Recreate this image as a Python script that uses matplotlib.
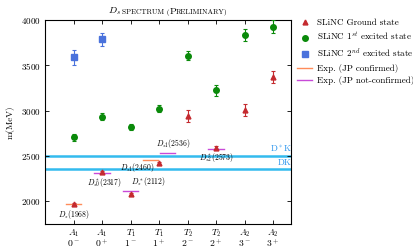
import numpy as np
import matplotlib
matplotlib.use("Agg")
import matplotlib.pyplot as plt
from matplotlib.lines import Line2D
from matplotlib.transforms import offset_copy, blended_transform_factory

plt.rcParams['font.family'] = 'serif'
plt.rcParams['font.serif'] = ['cmr10', 'DejaVu Serif']
plt.rcParams['mathtext.fontset'] = 'cm'
plt.rcParams['axes.unicode_minus'] = False
plt.rcParams['axes.formatter.use_mathtext'] = True

# irreps / J^P channels
irreps = [r"$A_1$", r"$A_1$", r"$T_1$", r"$T_1$", r"$T_2$", r"$T_2$", r"$A_2$", r"$A_2$"]
jp = [r"$0^-$", r"$0^+$", r"$1^-$", r"$1^+$", r"$2^-$", r"$2^+$", r"$3^-$", r"$3^+$"]

# lattice results (MeV)
ground = [1975, 2325, 2085, 2420, 2945, 2592, 3008, 3371]
ground_err = [10, 12, 12, 15, 65, 15, 70, 70]
exc1 = [2705, 2935, 2823, 3023, 3604, 3223, 3834, 3926]
exc1_err = [35, 37, 32, 40, 50, 60, 70, 75]
exc2_x = [1, 2]
exc2 = [3586, 3785]
exc2_err = [80, 70]

# experiment: (channel position, mass, label, confirmed)
exp_x = [1.0, 2.0, 3.0, 3.7, 4.3, 6.0]
exp_m = [1968, 2317, 2112, 2460, 2536, 2573]
exp_lab = [r"$D_s(1968)$", r"$D^*_{s0}(2317)$", r"$D^*_s(2112)$",
           r"$D_{s1}(2460)$", r"$D_{s1}(2536)$", r"$D^*_{s2}(2573)$"]
exp_conf = [True, False, False, True, False, False]

# thresholds
thr_m = [2501, 2359]
thr_lab = [r"D$^*$K", "DK"]

c_red = '#c42a2f'
c_green = '#0a8a0a'
c_blue = '#4a72dc'
c_orange = '#ff8c5a'
c_mag = '#c84ad8'
c_thr = '#33bbee'

fig = plt.figure(figsize=(4.14, 2.52), dpi=100)
ax = fig.add_axes([0.109, 0.111, 0.594, 0.810])

x = np.arange(1, len(irreps) + 1)

for t, m in zip(thr_m, thr_lab):
    ax.axhline(t, color=c_thr, lw=1.8, zorder=1)
    ax.text(8.66, t + 25, m, color='#3399ee', fontsize=6.5, ha='right', va='bottom')

for xx, mm, lab, conf in zip(exp_x, exp_m, exp_lab, exp_conf):
    ax.plot([xx - 0.27, xx + 0.27], [mm, mm], color=c_orange if conf else c_mag, lw=1.0, zorder=2)

lab_off = {  # text placement around each line
    0: (1.0, -45, 'center', 'top'),
    1: (2.07, -35, 'center', 'top'),
    2: (3.0, 30, 'left', 'bottom'),
    3: (3.85, -15, 'right', 'top'),
    4: (4.5, 25, 'center', 'bottom'),
    5: (6.0, -20, 'center', 'top'),
}
for i, lab in enumerate(exp_lab):
    px, dy, ha, va = lab_off[i]
    ax.text(px, exp_m[i] + dy, lab, fontsize=5.5, ha=ha, va=va, zorder=3)

ax.errorbar(x, ground, yerr=ground_err, fmt='^', color=c_red, ms=3.5,
            capsize=1.5, elinewidth=0.8, capthick=0.8, zorder=4)
ax.errorbar(x, exc1, yerr=exc1_err, fmt='o', color=c_green, ms=4,
            capsize=1.5, elinewidth=0.8, capthick=0.8, zorder=4)
ax.errorbar(exc2_x, exc2, yerr=exc2_err, fmt='s', color=c_blue, ms=4,
            capsize=1.5, elinewidth=0.8, capthick=0.8, zorder=4)

ax.set_xlim(0, 8.63)
ax.set_ylim(1750, 4000)
ax.set_xticks(x)
ax.set_xticklabels(irreps, fontsize=7)
ax.set_yticks([2000, 2500, 3000, 3500, 4000])
ax.tick_params(direction='in', top=True, right=True, labelsize=6.5, length=3, width=0.6)
ax.tick_params(axis='x', pad=2.5)
btr = blended_transform_factory(ax.transData, ax.transAxes)
for xi, s in zip(x, jp):
    ax.text(xi, -0.095, s, transform=btr, fontsize=7, ha='center', va='center')
ax.set_ylabel("m(MeV)", fontsize=6.5)
for s in ax.spines.values():
    s.set_linewidth(0.8)

handles = [
    Line2D([], [], ls='none', marker='^', color=c_red, ms=3.5),
    Line2D([], [], ls='none', marker='o', color=c_green, ms=4),
    Line2D([], [], ls='none', marker='s', color=c_blue, ms=4),
    Line2D([], [], color=c_orange, lw=1.0),
    Line2D([], [], color=c_mag, lw=1.0),
]
labels = ["SLiNC Ground state", r"SLiNC 1$^{st}$ excited state",
          r"SLiNC 2$^{nd}$ excited state", "Exp. (JP confirmed)",
          "Exp. (JP not-confirmed)"]
ax.legend(handles, labels, loc='upper left', bbox_to_anchor=(1.0, 1.035),
          frameon=False, fontsize=6.5, handlelength=1.6, handletextpad=0.6,
          labelspacing=0.4, borderaxespad=0.3)

# title in small caps
pieces = [(r"$D_s$ ", 7), ("SPECTRUM (", 5.3), ("P", 7), ("RELIMINARY)", 5.3)]
fig.canvas.draw()
r = fig.canvas.get_renderer()
txts = []
tr = ax.transAxes
for s, fs in pieces:
    t = ax.text(0.5, 1.03, s, fontsize=fs, transform=tr, ha='left', va='baseline')
    fig.canvas.draw()
    w = t.get_window_extent(renderer=r).width
    txts.append(t)
    tr = offset_copy(tr, fig=fig, x=w, units='dots')
total = sum(t.get_window_extent(renderer=r).width for t in txts)
for t in txts:
    t.set_transform(offset_copy(t.get_transform(), fig=fig, x=-total / 2, units='dots'))

fig.savefig("out.png", dpi=100)
